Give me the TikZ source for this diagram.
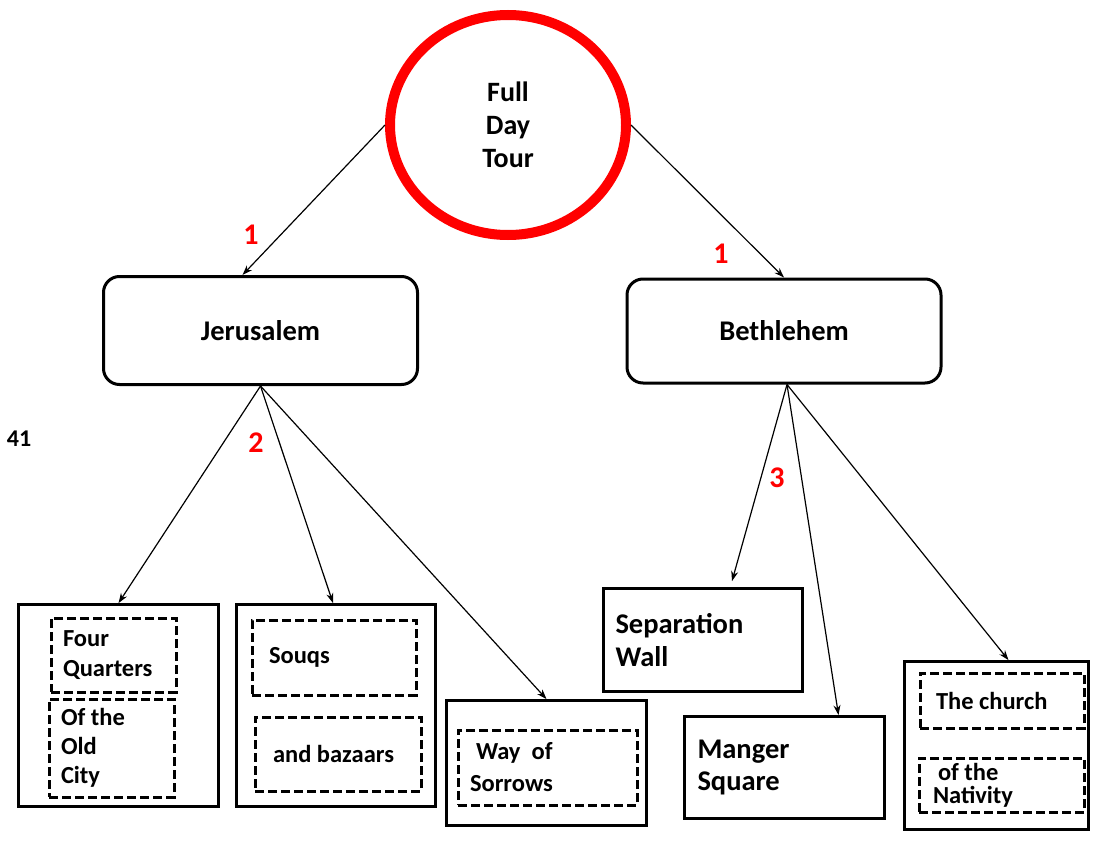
\documentclass[tikz,border=0pt]{standalone}
\usepackage{fontspec}
\setmainfont{Carlito}
\usetikzlibrary{shapes.geometric,arrows.meta}

\tikzset{
	hub/.style={ellipse, draw=red, line width=10pt, minimum width=236pt, minimum height=220pt, align=center, font=\bfseries\fontsize{28}{33}\selectfont},
	city/.style={draw, line width=3pt, rounded corners=16pt, minimum width=314pt, font=\bfseries\fontsize{28.5}{33}\selectfont},
	site/.style={draw, line width=2.8pt, inner xsep=12pt, align=flush left, font=\bfseries\fontsize{28.5}{33}\selectfont},
	part/.style={draw, dashed, line width=3pt, dash pattern=on 9pt off 4pt, inner xsep=12pt, align=flush left, font=\bfseries\fontsize{24.5}{30}\selectfont},
	num/.style={text=red, font=\bfseries\fontsize{30}{36}\selectfont},
	link/.style={line width=1.2pt, -{Stealth[length=10pt, width=7pt]}}
}

\begin{document}
\begin{tikzpicture}[x=1pt, y=-1pt]
		\useasboundingbox (0,0) rectangle (1105,843);

		% top of the tree
		\node[hub] (tour) at (508,125) {Full\\Day\\Tour};
		\node[city, minimum height=108pt] (jer) at (260.5,330.5) {Jerusalem};
		\node[city, minimum height=104pt] (beth) at (784,331) {Bethlehem};

		% Jerusalem stops
		\node[site, minimum width=200pt, minimum height=202pt] (oldcity) at (118.5,705.5) {};
		\node[part, text width=101pt, minimum height=74pt] (quarters) at (113.5,655) {Four\\Quarters};
		\node[part, text width=101pt, minimum height=98pt, font=\bfseries\fontsize{24.5}{29}\selectfont] (ofcity) at (111.5,748) {Of the\\Old\\City};

		\node[site, minimum width=199pt, minimum height=202pt] (market) at (336,705.5) {};
		\node[part, inner xsep=17pt, text width=130pt, minimum height=75pt] (souqs) at (334,657.5) {Souqs};
		\node[part, inner xsep=18pt, text width=130pt, minimum height=74pt] (bazaars) at (338,754) {and bazaars};

		\node[site, minimum width=200pt, minimum height=125pt] (dolorosa) at (546.5,763) {};
		\node[part, text width=155pt, minimum height=75pt, font=\bfseries\fontsize{24.5}{32}\selectfont] (sorrows) at (547.5,767.5) {\hspace*{6pt}Way\ \ of\\Sorrows};

		% Bethlehem stops
		\node[site, text width=175pt, minimum height=103pt] (wall) at (703,640) {Separation\\Wall};
		\node[site, inner xsep=13pt, text width=174pt, minimum height=102pt, font=\bfseries\fontsize{28.5}{32}\selectfont] (manger) at (784.5,767.5) {Manger\\Square};

		\node[site, minimum width=184pt, minimum height=168pt] (nativity) at (996.5,745.5) {};
		\node[part, inner xsep=16pt, text width=132pt, minimum height=55pt] (church) at (1002,700.5) {The church};
		\node[part, inner xsep=14pt, text width=137pt, minimum height=54pt, font=\bfseries\fontsize{24.5}{23}\selectfont] (ofnat) at (1001.5,785) {\hspace*{5pt}of the\\Nativity};

		% order numbers
		\node[num] (n1a) at (251,235) {1};
		\node[num] (n1b) at (721,254) {1};
		\node[num] (n2) at (256,443) {2};
		\node[num] (n3) at (777,478) {3};
		\node[font=\bfseries\fontsize{24}{28}\selectfont] (page) at (19,439) {41};

		% connectors
		\draw[link] (tour.west) -- ([xshift=-18pt]jer.north);
		\draw[link] (tour.east) -- (beth.north);
		\draw[link] (jer.south) -- (oldcity.north);
		\draw[link] (jer.south) -- ([xshift=-3pt]market.north);
		\draw[link] (jer.south) -- (dolorosa.north);
		\draw[link] ([xshift=3pt]beth.south) -- ([xshift=29pt,yshift=6pt]wall.north);
		\draw[link] ([xshift=3pt]beth.south) -- ([xshift=54pt]manger.north);
		\draw[link] ([xshift=3pt]beth.south) -- ([xshift=12pt]nativity.north);
	\end{tikzpicture}
\end{document}
